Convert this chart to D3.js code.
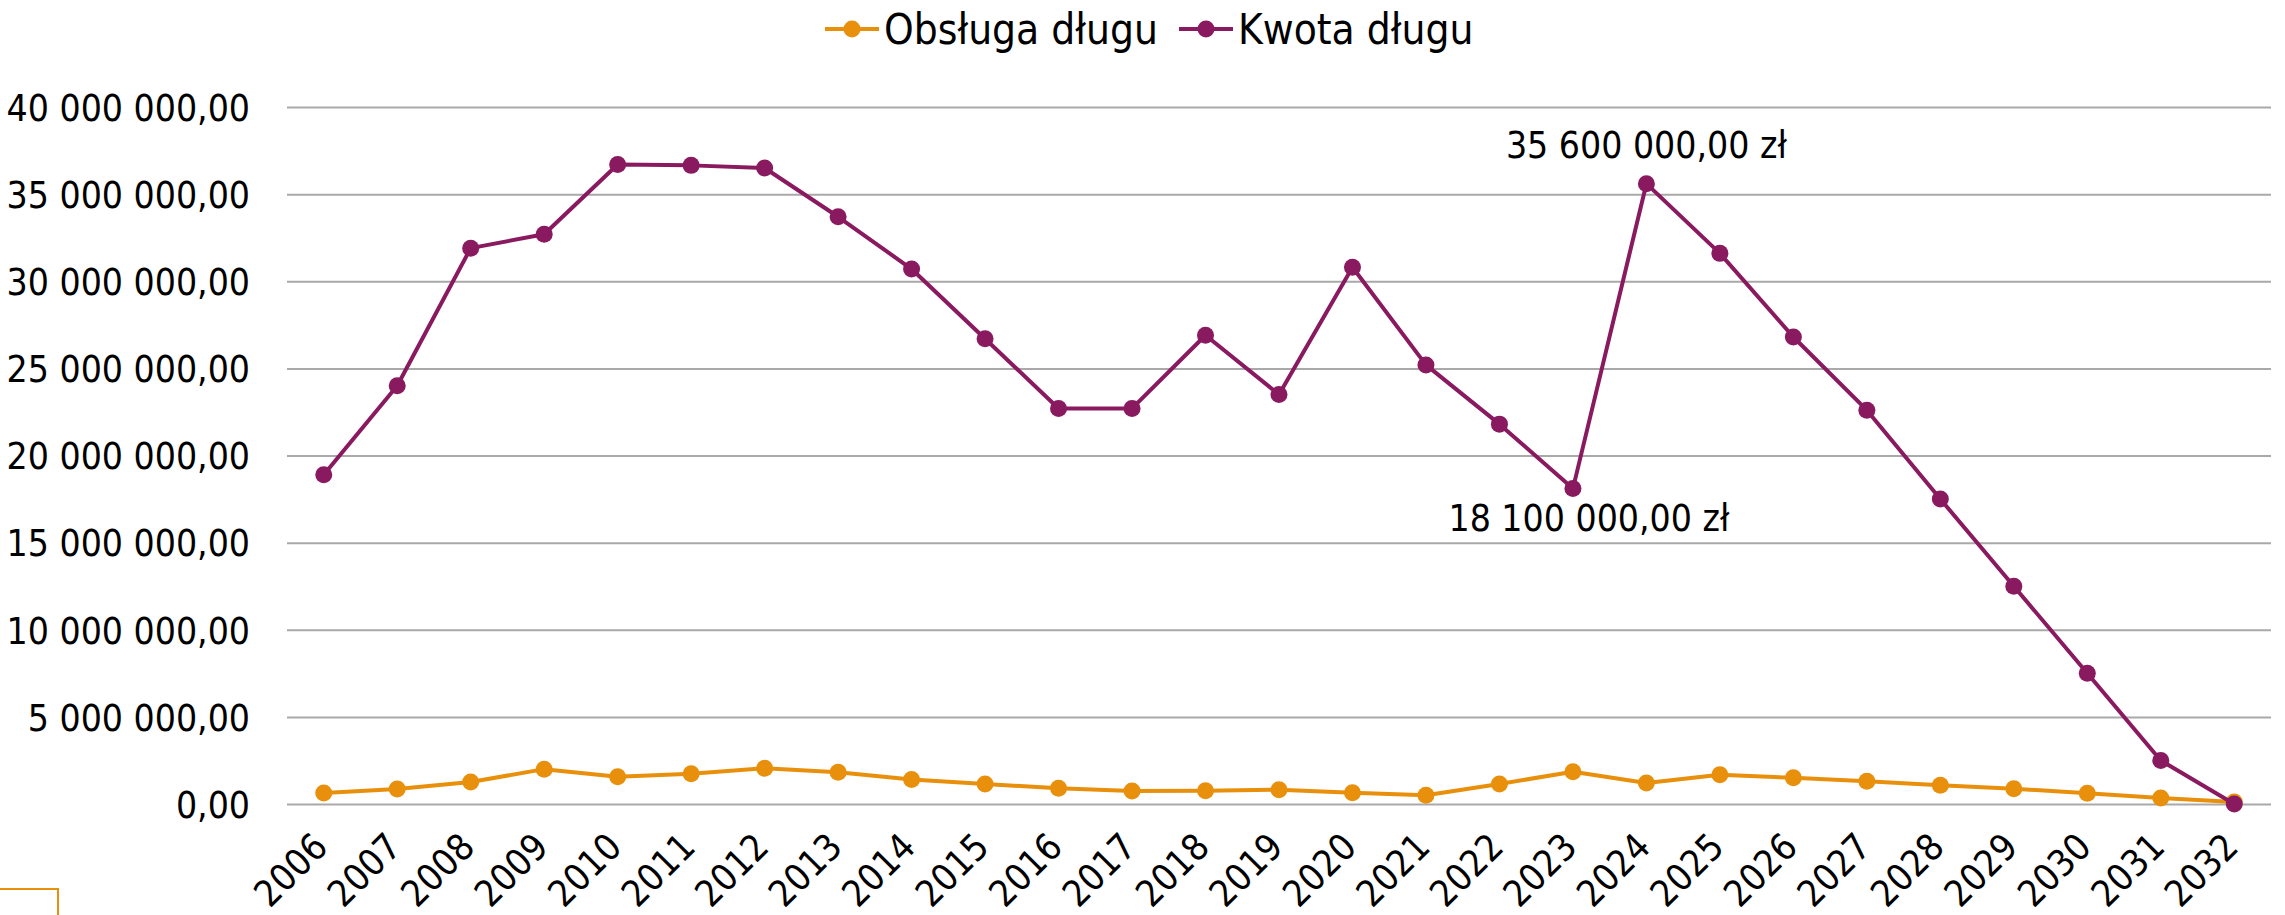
<!DOCTYPE html>
<html>
<head>
<meta charset="utf-8">
<script src="https://cdn.jsdelivr.net/npm/d3@7"></script>
<style>
  html, body { margin: 0; padding: 0; background: #fff; }
  svg text { font-family: 'DejaVu Sans Condensed', 'DejaVu Sans', sans-serif; font-stretch: condensed; fill: #000; }
</style>
</head>
<body>
<svg id="chart" width="2285" height="915"></svg>
<script>
// data
const years = ["2006","2007","2008","2009","2010","2011","2012","2013","2014","2015","2016","2017","2018","2019",
               "2020","2021","2022","2023","2024","2025","2026","2027","2028","2029","2030","2031","2032"];
const obsluga = [0.63, 0.86, 1.26, 2.0, 1.57, 1.74, 2.05, 1.82, 1.4, 1.15, 0.9, 0.75, 0.76, 0.82,
                 0.65, 0.5, 1.15, 1.85, 1.2, 1.68, 1.5, 1.3, 1.08, 0.88, 0.62, 0.34, 0.12].map(v => v * 1e6);
const kwota = [18.9, 24.0, 31.9, 32.7, 36.7, 36.65, 36.5, 33.7, 30.7, 26.7, 22.7, 22.7, 26.9, 23.5,
               30.8, 25.2, 21.8, 18.1, 35.6, 31.6, 26.8, 22.6, 17.5, 12.5, 7.5, 2.5, 0.0].map(v => v * 1e6);
const seriesNames = ["Obsługa długu", "Kwota długu"];
const colors = ["#e8900c", "#8a1a5f"];
const yTicks = [0, 5e6, 10e6, 15e6, 20e6, 25e6, 30e6, 35e6, 40e6];
// labelled points: [series index, year]
const callouts = [[1, "2024", "above"], [1, "2023", "below"]];

const svg = d3.select("#chart");
const plLocale = d3.formatLocale({ decimal: ",", thousands: " ", grouping: [3], currency: ["", " zł"] });
const fmt = plLocale.format(",.2f");

const x = d3.scalePoint().domain(years).range([287, 2271]).padding(0.5);
const y = d3.scaleLinear().domain([0, 40e6]).range([804, 107]);

// grid + y labels
const yAxis = svg.append("g")
  .attr("transform", "translate(287,0)")
  .call(d3.axisLeft(y).tickValues(yTicks).tickFormat(fmt).tickSize(-(2271 - 287)).tickPadding(37));
yAxis.select(".domain").remove();
yAxis.selectAll(".tick line").attr("stroke", "#a9a9a9").attr("stroke-width", 2);
yAxis.selectAll(".tick text").attr("font-size", 37).attr("dy", "0.36em")
  .style("font-family", null);

// x labels
const xAxis = svg.append("g");
xAxis.selectAll("text").data(years).join("text")
  .attr("transform", d => `translate(${x(d) + 6},849) rotate(-45)`)
  .attr("text-anchor", "end")
  .attr("font-size", 37)
  .text(d => d);

// series
const line = d3.line().x((d, i) => x(years[i])).y(d => y(d));
[obsluga, kwota].forEach((vals, s) => {
  const g = svg.append("g");
  g.append("path").datum(vals)
    .attr("d", line)
    .attr("fill", "none")
    .attr("stroke", colors[s])
    .attr("stroke-width", 4)
    .attr("stroke-linejoin", "round");
  g.selectAll("circle").data(vals).join("circle")
    .attr("cx", (d, i) => x(years[i]))
    .attr("cy", d => y(d))
    .attr("r", 8.5)
    .attr("fill", colors[s]);
});

// callout labels
const data = [obsluga, kwota];
callouts.forEach(([s, yr, pos]) => {
  const v = data[s][years.indexOf(yr)];
  svg.append("text")
    .attr("x", x(yr) + (pos === "above" ? 0 : 16))
    .attr("y", y(v) + (pos === "above" ? -26 : 42))
    .attr("text-anchor", "middle")
    .attr("font-size", 37)
    .text(plLocale.format("$,.2f")(v));
});

// legend
const legendX = [825, 1179];
seriesNames.forEach((name, s) => {
  const g = svg.append("g").attr("transform", `translate(${legendX[s]},29)`);
  g.append("line").attr("x1", 0).attr("x2", 54).attr("stroke", colors[s]).attr("stroke-width", 4);
  g.append("circle").attr("cx", 27).attr("r", 8.5).attr("fill", colors[s]);
  g.append("text").attr("x", 59).attr("dy", "0.36em").attr("font-size", 42).text(name);
});

// stray frame corner at bottom-left
svg.append("path")
  .attr("d", "M0,889H58V915")
  .attr("fill", "none")
  .attr("stroke", colors[0])
  .attr("stroke-width", 2);
</script>
</body>
</html>
